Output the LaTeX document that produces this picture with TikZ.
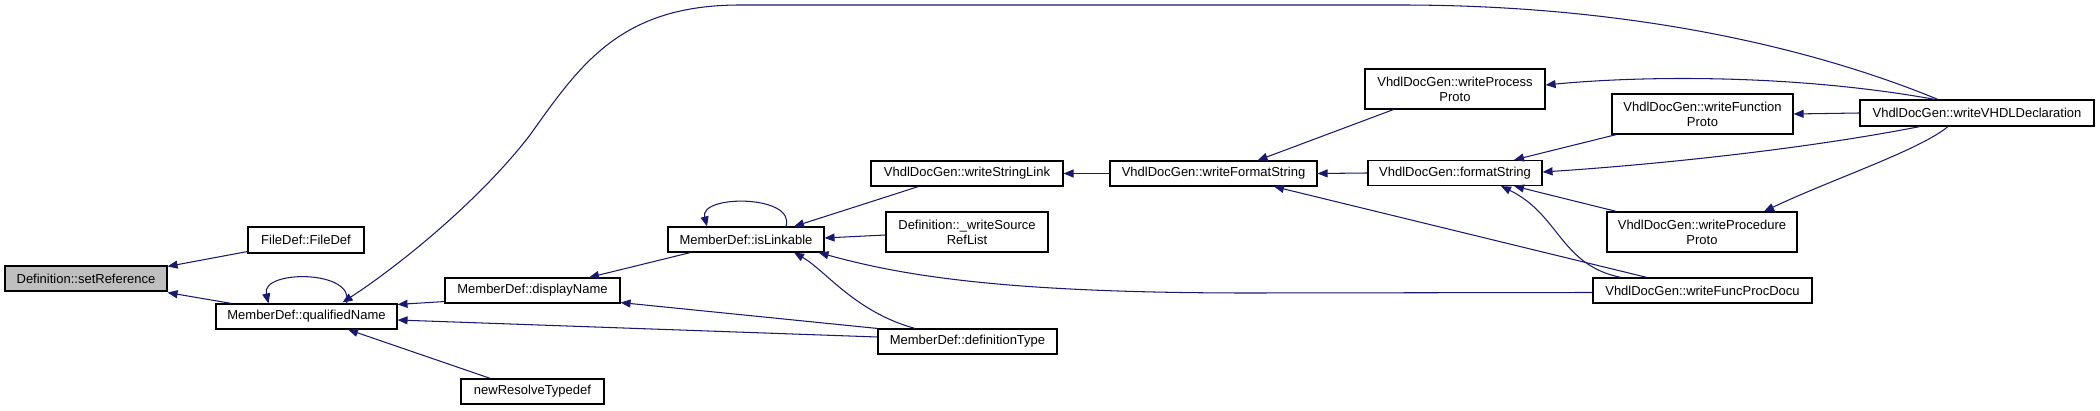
\documentclass[tikz,border=0pt]{standalone}
\usepackage{fontspec}
\setmainfont{Liberation Sans}
\usetikzlibrary{arrows.meta,calc}
\definecolor{edgec}{HTML}{191970}
\definecolor{grayfill}{HTML}{BFBFBF}
\begin{document}
\begin{tikzpicture}[x=1pt,y=-1pt,
  box/.style={draw=black, line width=1.1pt, fill=white, rectangle, inner sep=0pt, align=center, font=\fontsize{13}{15}\selectfont},
  call/.style={draw=edgec, line width=1.05pt, {Triangle[length=10pt,width=8pt]}-},
]
\useasboundingbox (0,0) rectangle (2100,411);
\fill[white] (0,0) rectangle (2100,411);

% nodes
\node[box, fill=grayfill, minimum width=162pt, minimum height=25pt] (setRef) at (86,278.5) {Definition::setReference};
\node[box, minimum width=116pt, minimum height=26pt] (fileDef) at (306,240) {FileDef::FileDef};
\node[box, minimum width=181pt, minimum height=25pt] (qN) at (306.5,316.5) {MemberDef::qualifiedName};
\node[box, minimum width=143pt, minimum height=25pt] (nRT) at (532.5,391.5) {newResolveTypedef};
\node[box, minimum width=175pt, minimum height=25pt] (dN) at (532.5,290.5) {MemberDef::displayName};
\node[box, minimum width=156pt, minimum height=25pt] (iL) at (746,239.5) {MemberDef::isLinkable};
\node[box, minimum width=162pt, minimum height=40pt] (wSR) at (967,232) {Definition::\_writeSource\\RefList};
\node[box, minimum width=179pt, minimum height=25pt] (dT) at (967.5,341.5) {MemberDef::definitionType};
\node[box, minimum width=192pt, minimum height=25pt] (wSL) at (967,173.5) {VhdlDocGen::writeStringLink};
\node[box, minimum width=207pt, minimum height=25pt] (wFS) at (1213.5,173.5) {VhdlDocGen::writeFormatString};
\node[box, minimum width=180pt, minimum height=40pt] (wPP) at (1455,89) {VhdlDocGen::writeProcess\\Proto};
\node[box, minimum width=174pt, minimum height=25pt] (fS) at (1455,173) {VhdlDocGen::formatString};
\node[box, minimum width=181pt, minimum height=40pt] (wFnP) at (1702.5,114) {VhdlDocGen::writeFunction\\Proto};
\node[box, minimum width=190pt, minimum height=40pt] (wPrP) at (1702,232) {VhdlDocGen::writeProcedure\\Proto};
\node[box, minimum width=219pt, minimum height=25pt] (wFPD) at (1702.5,290.5) {VhdlDocGen::writeFuncProcDocu};
\node[box, minimum width=234pt, minimum height=26pt] (vhdl) at (1977,113) {VhdlDocGen::writeVHDLDeclaration};

% edges (arrowhead at the called function)
\draw[call] ($(setRef.north east)+(0,1)$) -- ($(fileDef.south west)+(0,-2)$);
\draw[call] ($(setRef.south east)+(0,1)$) -- ($(qN.north west)+(16,0)$);
\draw[call] ($(qN.north)+(-38,0)$) .. controls +(-8,-34) and +(10,-34) .. ($(qN.north)+(40,0)$);
\draw[call] ($(qN.north east)+(0,1)$) -- ($(dN.south west)+(0,-2)$);
\draw[call] ($(qN.east)+(0,3.5)$) -- ($(dT.west)+(0,-4.5)$);
\draw[call] ($(qN.south)+(41.5,0)$) -- ($(nRT.north west)+(30,0)$);
\draw[call] ($(qN.north)+(36,-1)$) .. controls (400,265) and (480,200) .. (530,135)
  .. controls (580,65) and (620,5) .. (740,5) -- (1400,5)
  .. controls (1650,5) and (1830,55) .. ($(vhdl.north)+(-39,0)$);
\draw[call] ($(dN.north)+(56.5,0)$) -- ($(iL.south west)+(23,0)$);
\draw[call] ($(dN.south east)+(0,-1)$) -- (dT.north west);
\draw[call] ($(iL.north)+(-39,0)$) .. controls +(-8,-32) and +(10,-32) .. ($(iL.north)+(40,0)$);
\draw[call] ($(iL.north)+(48,0)$) -- ($(wSL.south west)+(48,0)$);
\draw[call] ($(iL.east)+(0,-1.5)$) -- ($(wSR.west)+(0,3)$);
\draw[call] ($(iL.south)+(48,0)$) .. controls (825,270) and (855,312) .. ($(dT.north)+(-52.5,0)$);
\draw[call] ($(iL.south east)+(-6,0)$) .. controls (900,275) and (1000,293) .. (1250,293) -- ($(wFPD.west)+(0,2)$);
\draw[call] (wSL.east) -- (wFS.west);
\draw[call] ($(wFS.north)+(44,0)$) -- ($(wPP.south west)+(29,0)$);
\draw[call] (wFS.east) -- (fS.west);
\draw[call] ($(wFS.south)+(60.5,0)$) -- ($(wFPD.north)+(-55.5,0)$);
\draw[call] ($(fS.north)+(59,0)$) -- ($(wFnP.south west)+(5,0)$);
\draw[call] ($(fS.east)+(0,-1)$) .. controls (1650,165) and (1800,150) .. ($(vhdl.south)+(-57,0)$);
\draw[call] ($(fS.south)+(59,0)$) -- ($(wPrP.north west)+(10,0)$);
\draw[call] ($(fS.south)+(46,0)$) .. controls (1560,215) and (1560,265) .. ($(wFPD.north)+(-81.5,0)$);
\draw[call] ($(wPP.east)+(0,-4)$) .. controls (1650,75) and (1800,75) .. ($(vhdl.north)+(-42,0)$);
\draw[call] (wFnP.east) -- (vhdl.west);
\draw[call] ($(wPrP.north)+(62,0)$) .. controls (1830,180) and (1920,150) .. ($(vhdl.south)+(-29,0)$);
\end{tikzpicture}
\end{document}
